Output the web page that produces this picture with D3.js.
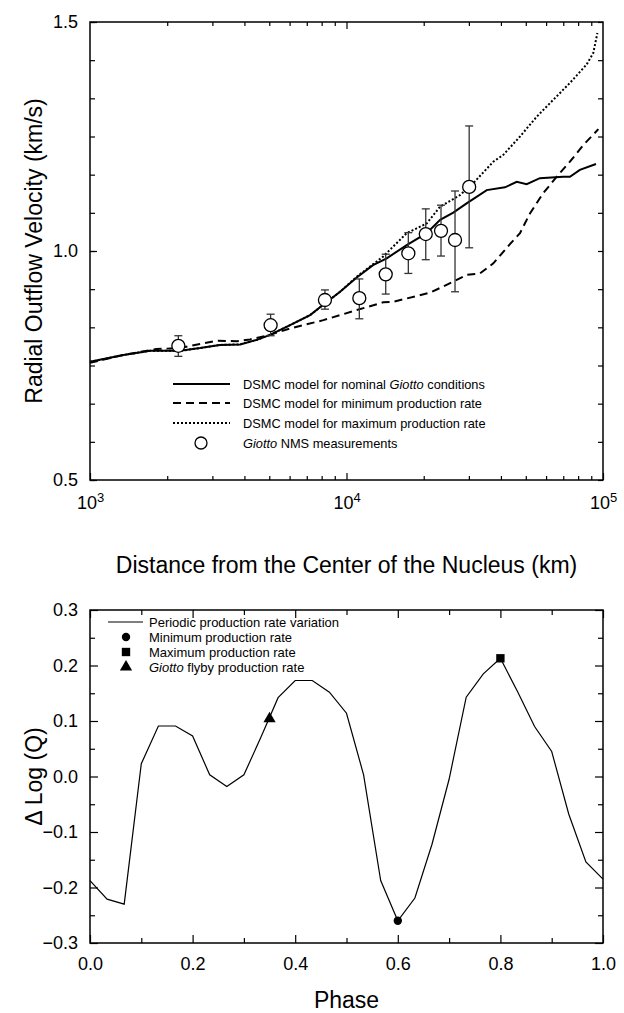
<!DOCTYPE html>
<html>
<head>
<meta charset="utf-8">
<script src="https://cdn.jsdelivr.net/npm/d3@7"></script>
<style>
  body { margin: 0; background: #fff; }
  svg { font-family: "Liberation Sans", Arial, sans-serif; }
</style>
</head>
<body>
<div id="wrapper"></div>
<script>
// ---- top panel data: radial outflow velocity vs distance ----
const nominalDist = [1000, 1350, 1715, 2245, 2685, 3210, 3850, 4470, 5035, 6025, 7210, 8090, 9440, 10965, 12685, 14350, 17165, 20540, 23175, 26080, 29400, 35210, 41480, 46110, 50400, 56740, 69960, 74320, 81250, 93900];
const nominalVel  = [0.758, 0.773, 0.782, 0.782, 0.788, 0.795, 0.796, 0.806, 0.817, 0.838, 0.860, 0.882, 0.911, 0.942, 0.969, 0.984, 1.013, 1.039, 1.068, 1.084, 1.104, 1.133, 1.139, 1.151, 1.146, 1.159, 1.162, 1.162, 1.177, 1.190];

const minDist = [1000, 1350, 1820, 2245, 2685, 3120, 3733, 4208, 5035, 6026, 8125, 10965, 13904, 15216, 21167, 26078, 29400, 33110, 37360, 43370, 47470, 51900, 58430, 65940, 74320, 83700, 95940];
const minVel  = [0.756, 0.773, 0.786, 0.788, 0.797, 0.804, 0.803, 0.807, 0.817, 0.831, 0.849, 0.871, 0.888, 0.889, 0.909, 0.933, 0.948, 0.951, 0.973, 1.015, 1.039, 1.082, 1.126, 1.162, 1.195, 1.231, 1.266];

const maxDist = [1000, 1350, 1715, 2245, 2685, 3210, 3850, 4470, 5035, 6025, 7210, 8090, 9440, 10965, 13904, 17165, 20541, 23174, 27682, 31190, 37360, 40870, 47470, 55100, 63950, 74320, 86260, 91590, 95100];
const maxVel  = [0.758, 0.773, 0.782, 0.782, 0.788, 0.795, 0.796, 0.806, 0.817, 0.838, 0.860, 0.882, 0.911, 0.944, 0.988, 1.039, 1.060, 1.097, 1.122, 1.148, 1.195, 1.210, 1.250, 1.293, 1.330, 1.367, 1.407, 1.432, 1.476];

const nmsDist  = [2210, 5060, 8240, 11220, 14220, 17420, 20370, 23360, 26490, 30080];
const nmsVel   = [0.793, 0.838, 0.893, 0.897, 0.949, 0.995, 1.037, 1.044, 1.024, 1.140];
const nmsLow   = [0.770, 0.815, 0.873, 0.852, 0.906, 0.951, 0.981, 0.989, 0.911, 1.007];
const nmsHigh  = [0.815, 0.862, 0.915, 0.939, 0.993, 1.040, 1.092, 1.100, 1.131, 1.273];

const topLegend = ["DSMC model for nominal ", "DSMC model for minimum production rate", "DSMC model for maximum production rate", " NMS measurements"];

// ---- bottom panel data: periodic production rate ----
const phase = [0, 1/30, 2/30, 3/30, 4/30, 5/30, 6/30, 7/30, 8/30, 9/30, 10/30, 11/30, 12/30, 13/30, 14/30, 15/30, 16/30, 17/30, 18/30, 19/30, 20/30, 21/30, 22/30, 23/30, 24/30, 25/30, 26/30, 27/30, 28/30, 29/30, 1];
const dLogQ = [-0.1875, -0.221, -0.230, 0.023, 0.091, 0.091, 0.073, 0.003, -0.018, 0.003, 0.071, 0.142, 0.173, 0.173, 0.152, 0.114, 0.003, -0.1875, -0.260, -0.219, -0.122, -0.005, 0.143, 0.185, 0.213, 0.153, 0.090, 0.045, -0.068, -0.154, -0.185];
const minPoint = [0.6, -0.260];
const maxPoint = [0.8, 0.213];
const flybyPoint = [0.35, 0.104];

const W = 624, H = 1013;
const svg = d3.select("#wrapper").append("svg")
  .attr("width", W).attr("height", H).attr("viewBox", [0, 0, W, H]);

const left = 90, right = 603;

// ================= TOP PANEL =================
const top1 = 22, bot1 = 480;
const x1 = d3.scaleLog().domain([1e3, 1e5]).range([left, right]);
const y1 = d3.scaleLinear().domain([0.5, 1.5]).range([bot1, top1]);

const minorX1 = [];
[1e3, 1e4].forEach(b => { for (let k = 2; k <= 9; k++) minorX1.push(b * k); });
const minorY1 = d3.range(0, 13).map(i => 0.5 + i / 12);

function styleAxis(g) {
  g.select(".domain").remove();
  g.selectAll("line").attr("stroke", "#000").attr("stroke-width", 1.2);
}

// minor ticks
svg.append("g").attr("transform", `translate(0,${bot1})`)
  .call(d3.axisBottom(x1).tickValues(minorX1).tickSizeInner(-4).tickSizeOuter(0).tickFormat(""))
  .call(styleAxis);
svg.append("g").attr("transform", `translate(0,${top1})`)
  .call(d3.axisTop(x1).tickValues(minorX1).tickSizeInner(-4).tickSizeOuter(0).tickFormat(""))
  .call(styleAxis);
svg.append("g").attr("transform", `translate(${left},0)`)
  .call(d3.axisLeft(y1).tickValues(minorY1).tickSizeInner(-5).tickSizeOuter(0).tickFormat(""))
  .call(styleAxis);
svg.append("g").attr("transform", `translate(${right},0)`)
  .call(d3.axisRight(y1).tickValues(minorY1).tickSizeInner(-5).tickSizeOuter(0).tickFormat(""))
  .call(styleAxis);

// major ticks + labels
const xAx1 = svg.append("g").attr("transform", `translate(0,${bot1})`)
  .call(d3.axisBottom(x1).tickValues([1e3, 1e4, 1e5]).tickSizeInner(-7).tickSizeOuter(0).tickPadding(16))
  .call(styleAxis);
xAx1.selectAll("text").each(function(d) {
  const t = d3.select(this).text("10").attr("font-size", 18).attr("fill", "#000");
  t.append("tspan").attr("dy", -7).attr("font-size", 13).text(Math.round(Math.log10(d)));
});
svg.append("g").attr("transform", `translate(0,${top1})`)
  .call(d3.axisTop(x1).tickValues([1e4]).tickSizeInner(-7).tickSizeOuter(0).tickFormat(""))
  .call(styleAxis);
svg.append("g").attr("transform", `translate(${left},0)`)
  .call(d3.axisLeft(y1).tickValues([0.5, 1.0, 1.5]).tickSizeInner(-7).tickSizeOuter(0).tickPadding(12).tickFormat(d3.format(".1f")))
  .call(styleAxis)
  .selectAll("text").attr("font-size", 18).attr("fill", "#000");

svg.append("rect").attr("x", left).attr("y", top1).attr("width", right - left).attr("height", bot1 - top1)
  .attr("fill", "none").attr("stroke", "#000").attr("stroke-width", 1.5);

const line1 = d3.line().x(d => x1(d[0])).y(d => y1(d[1]));
const zip = (a, b) => a.map((v, i) => [v, b[i]]);

svg.append("path").attr("d", line1(zip(minDist, minVel)))
  .attr("fill", "none").attr("stroke", "#000").attr("stroke-width", 2).attr("stroke-dasharray", "8,5");
svg.append("path").attr("d", line1(zip(maxDist, maxVel)))
  .attr("fill", "none").attr("stroke", "#000").attr("stroke-width", 2).attr("stroke-dasharray", "2,2");
svg.append("path").attr("d", line1(zip(nominalDist, nominalVel)))
  .attr("fill", "none").attr("stroke", "#000").attr("stroke-width", 2);

// error bars
const eb = svg.append("g").attr("stroke", "#333").attr("stroke-width", 1.3);
nmsDist.forEach((d, i) => {
  const cx = x1(d);
  eb.append("line").attr("x1", cx).attr("x2", cx).attr("y1", y1(nmsLow[i])).attr("y2", y1(nmsHigh[i]));
  eb.append("line").attr("x1", cx - 4).attr("x2", cx + 4).attr("y1", y1(nmsLow[i])).attr("y2", y1(nmsLow[i]));
  eb.append("line").attr("x1", cx - 4).attr("x2", cx + 4).attr("y1", y1(nmsHigh[i])).attr("y2", y1(nmsHigh[i]));
});
svg.append("g").selectAll("circle").data(zip(nmsDist, nmsVel)).join("circle")
  .attr("cx", d => x1(d[0])).attr("cy", d => y1(d[1])).attr("r", 6.5)
  .attr("fill", "#fff").attr("stroke", "#000").attr("stroke-width", 1.3);

// top legend
const lg = svg.append("g").attr("font-size", 12.8);
const legX0 = 173, legX1 = 230, legT = 243, legY = [384, 403, 423, 443];
const dashes = [null, "8,5", "2,2"];
for (let i = 0; i < 3; i++) {
  lg.append("line").attr("x1", legX0).attr("x2", legX1).attr("y1", legY[i]).attr("y2", legY[i])
    .attr("stroke", "#000").attr("stroke-width", 2).attr("stroke-dasharray", dashes[i]);
}
lg.append("circle").attr("cx", 201).attr("cy", legY[3]).attr("r", 6).attr("fill", "#fff").attr("stroke", "#000").attr("stroke-width", 1.3);
const t0 = lg.append("text").attr("x", legT).attr("y", legY[0] + 4.5).text(topLegend[0]);
t0.append("tspan").attr("font-style", "italic").text("Giotto");
t0.append("tspan").text(" conditions");
lg.append("text").attr("x", legT).attr("y", legY[1] + 4.5).text(topLegend[1]);
lg.append("text").attr("x", legT).attr("y", legY[2] + 4.5).text(topLegend[2]);
const t3 = lg.append("text").attr("x", legT).attr("y", legY[3] + 4.5);
t3.append("tspan").attr("font-style", "italic").text("Giotto");
t3.append("tspan").text(topLegend[3]);

svg.append("text").attr("x", (left + right) / 2).attr("y", 573).attr("text-anchor", "middle")
  .attr("font-size", 23).text("Distance from the Center of the Nucleus (km)");
svg.append("text").attr("transform", `translate(42,${(top1 + bot1) / 2}) rotate(-90)`).attr("text-anchor", "middle")
  .attr("font-size", 23).text("Radial Outflow Velocity (km/s)");

// ================= BOTTOM PANEL =================
const top2 = 610, bot2 = 943;
const x2 = d3.scaleLinear().domain([0, 1]).range([left, right]);
const y2 = d3.scaleLinear().domain([-0.3, 0.3]).range([bot2, top2]);

const minorX2 = d3.range(0.1, 1, 0.2);
const minorY2 = d3.range(-0.25, 0.3, 0.1);
svg.append("g").attr("transform", `translate(0,${bot2})`)
  .call(d3.axisBottom(x2).tickValues(minorX2).tickSizeInner(-5).tickSizeOuter(0).tickFormat("")).call(styleAxis);
svg.append("g").attr("transform", `translate(0,${top2})`)
  .call(d3.axisTop(x2).tickValues(minorX2).tickSizeInner(-5).tickSizeOuter(0).tickFormat("")).call(styleAxis);
svg.append("g").attr("transform", `translate(${left},0)`)
  .call(d3.axisLeft(y2).tickValues(minorY2).tickSizeInner(-5).tickSizeOuter(0).tickFormat("")).call(styleAxis);
svg.append("g").attr("transform", `translate(${right},0)`)
  .call(d3.axisRight(y2).tickValues(minorY2).tickSizeInner(-5).tickSizeOuter(0).tickFormat("")).call(styleAxis);

const majX2 = [0, 0.2, 0.4, 0.6, 0.8, 1.0];
const majY2 = [-0.3, -0.2, -0.1, 0, 0.1, 0.2, 0.3];
svg.append("g").attr("transform", `translate(0,${bot2})`)
  .call(d3.axisBottom(x2).tickValues(majX2).tickSizeInner(-8).tickSizeOuter(0).tickPadding(14).tickFormat(d3.format(".1f")))
  .call(styleAxis).selectAll("text").attr("font-size", 18).attr("fill", "#000");
svg.append("g").attr("transform", `translate(0,${top2})`)
  .call(d3.axisTop(x2).tickValues(majX2).tickSizeInner(-8).tickSizeOuter(0).tickFormat("")).call(styleAxis);
svg.append("g").attr("transform", `translate(${left},0)`)
  .call(d3.axisLeft(y2).tickValues(majY2).tickSizeInner(-8).tickSizeOuter(0).tickPadding(12).tickFormat(d3.format(".1f")))
  .call(styleAxis).selectAll("text").attr("font-size", 18).attr("fill", "#000");
svg.append("g").attr("transform", `translate(${right},0)`)
  .call(d3.axisRight(y2).tickValues(majY2).tickSizeInner(-8).tickSizeOuter(0).tickFormat("")).call(styleAxis);

svg.append("rect").attr("x", left).attr("y", top2).attr("width", right - left).attr("height", bot2 - top2)
  .attr("fill", "none").attr("stroke", "#000").attr("stroke-width", 1.5);

const line2 = d3.line().x(d => x2(d[0])).y(d => y2(d[1]));
svg.append("path").attr("d", line2(zip(phase, dLogQ)))
  .attr("fill", "none").attr("stroke", "#000").attr("stroke-width", 1.2);

const sym = d3.symbol();
svg.append("path").attr("transform", `translate(${x2(minPoint[0])},${y2(minPoint[1])})`)
  .attr("d", sym.type(d3.symbolCircle).size(55)());
svg.append("path").attr("transform", `translate(${x2(maxPoint[0])},${y2(maxPoint[1])})`)
  .attr("d", sym.type(d3.symbolSquare).size(70)());
svg.append("path").attr("transform", `translate(${x2(flybyPoint[0])},${y2(flybyPoint[1])})`)
  .attr("d", sym.type(d3.symbolTriangle).size(65)());

// bottom legend
const lg2 = svg.append("g").attr("font-size", 13);
const l2x = 126, l2t = 149, l2y = [622, 637, 652, 667];
lg2.append("line").attr("x1", 108).attr("x2", 143).attr("y1", l2y[0]).attr("y2", l2y[0]).attr("stroke", "#000").attr("stroke-width", 1.2);
lg2.append("path").attr("transform", `translate(${l2x},${l2y[1]})`).attr("d", sym.type(d3.symbolCircle).size(55)());
lg2.append("path").attr("transform", `translate(${l2x},${l2y[2]})`).attr("d", sym.type(d3.symbolSquare).size(70)());
lg2.append("path").attr("transform", `translate(${l2x},${l2y[3]})`).attr("d", sym.type(d3.symbolTriangle).size(65)());
lg2.append("text").attr("x", l2t).attr("y", l2y[0] + 4.5).text("Periodic production rate variation");
lg2.append("text").attr("x", l2t).attr("y", l2y[1] + 4.5).text("Minimum production rate");
lg2.append("text").attr("x", l2t).attr("y", l2y[2] + 4.5).text("Maximum production rate");
const t23 = lg2.append("text").attr("x", l2t).attr("y", l2y[3] + 4.5);
t23.append("tspan").attr("font-style", "italic").text("Giotto");
t23.append("tspan").text(" flyby production rate");

svg.append("text").attr("x", (left + right) / 2).attr("y", 1008).attr("text-anchor", "middle")
  .attr("font-size", 23).text("Phase");
svg.append("text").attr("transform", `translate(42,${(top2 + bot2) / 2}) rotate(-90)`).attr("text-anchor", "middle")
  .attr("font-size", 23).text("Δ Log (Q)");
</script>
</body>
</html>
